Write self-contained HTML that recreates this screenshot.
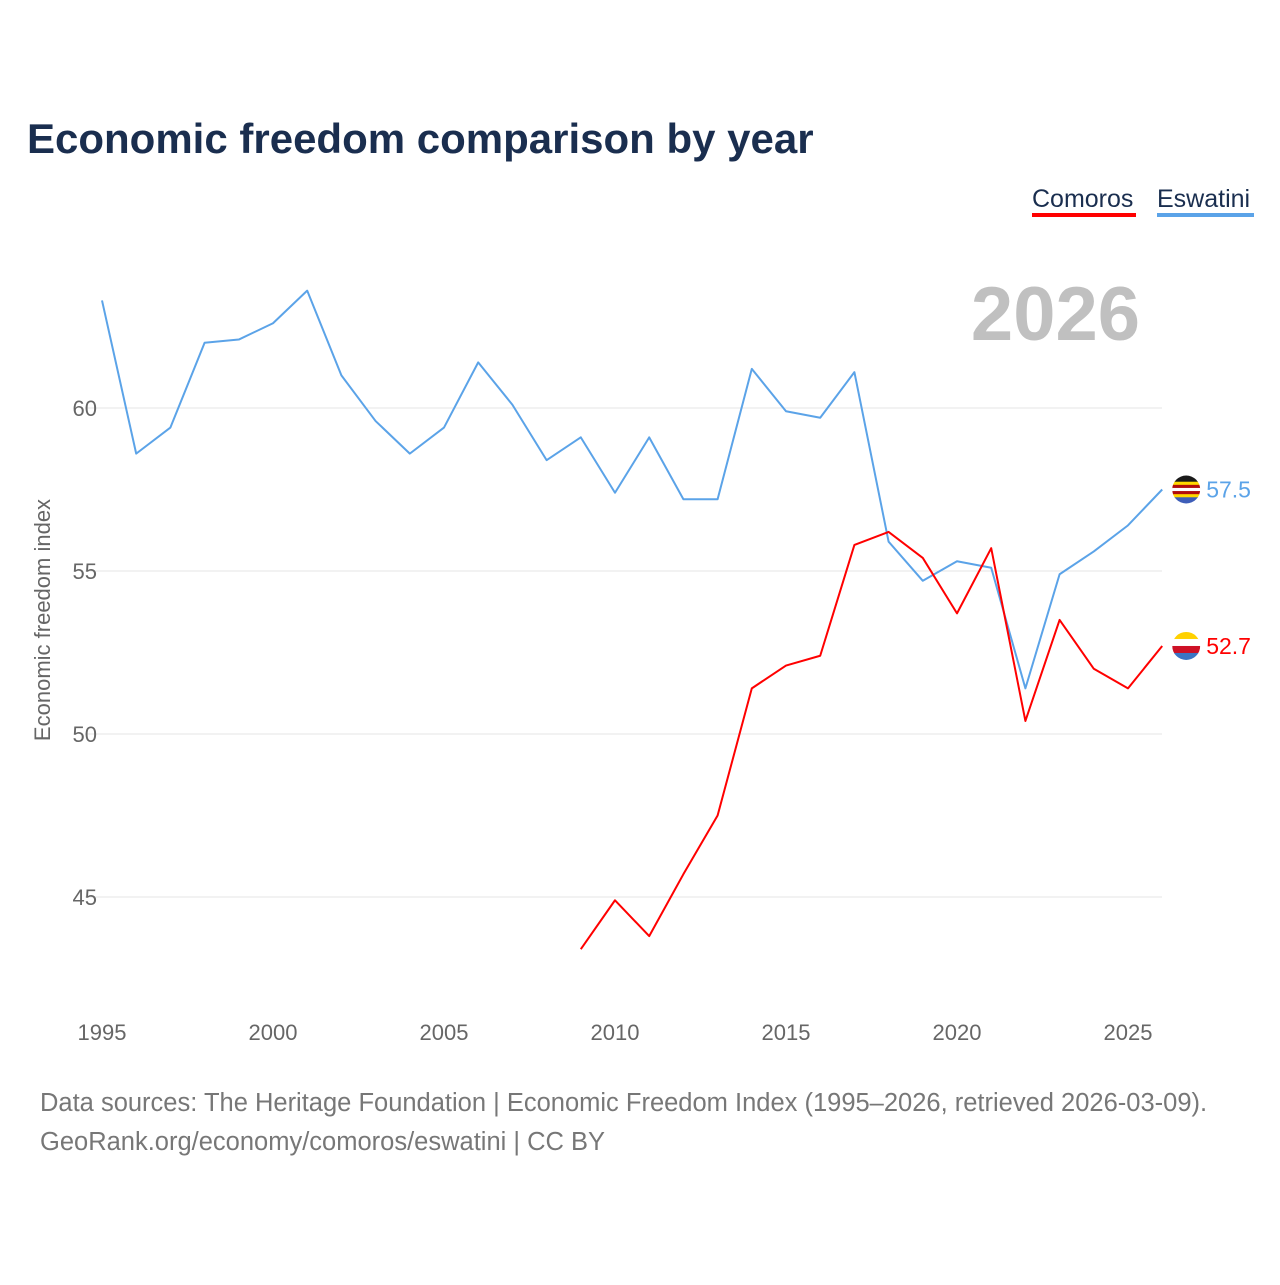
<!DOCTYPE html>
<html><head><meta charset="utf-8">
<style>
body{margin:0;background:#fff;font-family:"Liberation Sans",sans-serif;}
#wrap{position:relative;width:1280px;height:1280px;}
</style></head>
<body>
<div id="wrap">
<svg id="chart" width="1280" height="1280">
  <text x="27" y="153" font-size="42" font-weight="bold" fill="#1a2e4f">Economic freedom comparison by year</text>
  <g>
    <text x="1032" y="207" font-size="25" fill="#1a2e4f">Comoros</text>
    <rect x="1032" y="213" width="104" height="4" fill="#ff0000"/>
    <text x="1157" y="207" font-size="25" fill="#1a2e4f">Eswatini</text>
    <rect x="1157" y="213" width="97" height="4" fill="#5ba3e8"/>
  </g>
  <text x="1140" y="340" font-size="76" font-weight="bold" fill="#c0c0c0" text-anchor="end">2026</text>
  <text transform="translate(50,620) rotate(-90)" font-size="22" fill="#666" text-anchor="middle">Economic freedom index</text>
  <g id="grid"></g><g id="xt"></g><g id="lines"></g>
  <text x="40" y="1111" font-size="25.5" fill="#777">Data sources: The Heritage Foundation | Economic Freedom Index (1995–2026, retrieved 2026-03-09).</text>
  <text x="40" y="1150" font-size="25.5" fill="#777">GeoRank.org/economy/comoros/eswatini | CC BY</text>
</svg>
</div>
<script>
const years=[];for(let y=1995;y<=2026;y++)years.push(y);
const eswatini=[63.3,58.6,59.4,62.0,62.1,62.6,63.6,61.0,59.6,58.6,59.4,61.4,60.1,58.4,59.1,57.4,59.1,57.2,57.2,61.2,59.9,59.7,61.1,55.9,54.7,55.3,55.1,51.4,54.9,55.6,56.4,57.5];
const comorosYears=[2009,2010,2011,2012,2013,2014,2015,2016,2017,2018,2019,2020,2021,2022,2023,2024,2025,2026];
const comoros=[43.4,44.9,43.8,45.7,47.5,51.4,52.1,52.4,55.8,56.2,55.4,53.7,55.7,50.4,53.5,52.0,51.4,52.7];
const yTicks=[45,50,55,60];
const xTicks=[1995,2000,2005,2010,2015,2020,2025];
const NS='http://www.w3.org/2000/svg';
const X=y=>102+(y-1995)*34.2;
const Y=v=>408+(60-v)*32.6;
function mk(t,a,p){const e=document.createElementNS(NS,t);for(const k in a)e.setAttribute(k,a[k]);p.appendChild(e);return e;}
const grid=document.getElementById('grid');
yTicks.forEach(v=>{
  const l=mk('line',{x1:85,x2:1162,y1:Y(v),y2:Y(v),stroke:'#e6e6e6','stroke-width':1},grid);
  
  
  const t=mk('text',{x:97,y:Y(v)+8,'font-size':22,fill:'#666','text-anchor':'end'},grid);
  t.textContent=v;
  
  
});
const xt=document.getElementById('xt');
xTicks.forEach(v=>{
  const t=mk('text',{x:X(v),y:1040,'font-size':22,fill:'#666','text-anchor':'middle'},xt);
  t.textContent=v;
  
  
});
const lines=document.getElementById('lines');
function series(xs,vs,col,name,flag){
  const p=mk('polyline',{points:xs.map((x,i)=>X(x)+','+Y(vs[i])).join(' '),fill:'none',stroke:col,'stroke-width':2,'stroke-linejoin':'round'},lines);
  
  
  const lx=X(xs[xs.length-1]),ly=Y(vs[vs.length-1]);
  const g=mk('g',{},lines);
  
  
  const cp=mk('clipPath',{id:'c'+name},g);mk('circle',{cx:lx+24,cy:ly,r:14},cp);
  const h=28/flag.length;
  flag.forEach((c,i)=>mk('rect',{x:lx+10,y:ly-14+i*h,width:28,height:h+0.5,fill:c,'clip-path':'url(#c'+name+')'},g));
  const t=mk('text',{x:lx+44,y:ly+8,'font-size':23,fill:col},lines);
  t.textContent=vs[vs.length-1].toFixed(1);
  
  
}
series(years,eswatini,'#5ba3e8','eswatini',['#1a1a1a','#1a1a1a','#ffd900','#b10c0c','#ffffff','#b10c0c','#ffd900','#3e5eb9','#3e5eb9']);
series(comorosYears,comoros,'#ff0000','comoros',['#ffd100','#ffffff','#ce1126','#3a75c4']);
</script>
</body></html>
